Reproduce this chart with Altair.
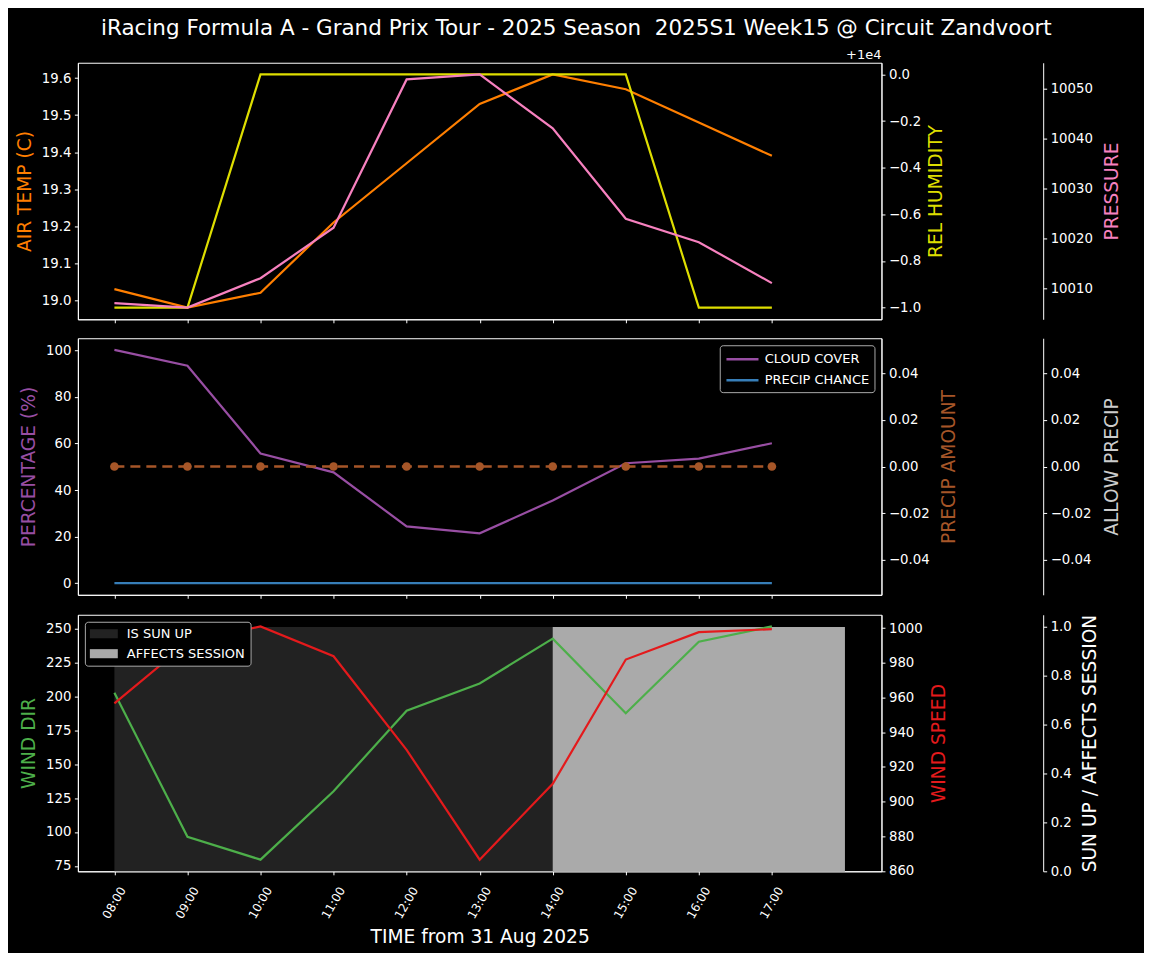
import altair as alt
import pandas as pd

# ---------------- text ----------------
TITLE = "iRacing Formula A - Grand Prix Tour - 2025 Season\u00a0 2025S1 Week15 @ Circuit Zandvoort"
X_TITLE = "TIME from 31 Aug 2025"
HUM_OFFSET_TEXT = "+1e4"

# ---------------- data ----------------
times = ["08:00", "09:00", "10:00", "11:00", "12:00", "13:00", "14:00", "15:00", "16:00", "17:00"]

air_temp = [19.03, 18.98, 19.02, 19.21, 19.37, 19.53, 19.61, 19.57, 19.48, 19.39]
rel_humidity = [9999, 9999, 10000, 10000, 10000, 10000, 10000, 10000, 9999, 9999]
pressure = [10007.0, 10006.1, 10012.0, 10022.1, 10051.8, 10052.8, 10042.0, 10023.9, 10019.2, 10011.0]

cloud_cover = [100.2, 93.4, 55.7, 47.6, 24.4, 21.4, 35.5, 51.5, 53.5, 60.1]
precip_chance = [0, 0, 0, 0, 0, 0, 0, 0, 0, 0]
precip_amount = [0.0, 0.0, 0.0, 0.0, 0.0, 0.0, 0.0, 0.0, 0.0, 0.0]
allow_precip = [0, 0, 0, 0, 0, 0, 0, 0, 0, 0]

wind_dir = [202.7, 96.5, 79.6, 130.0, 189.5, 209.6, 242.7, 187.6, 240.4, 251.7]
wind_speed = [956.6, 991.6, 1001.0, 983.8, 929.8, 866.5, 910.2, 981.9, 997.7, 999.4]
is_sun_up = [1, 1, 1, 1, 1, 1, 1, 1, 1, 1]
affects_session = [0, 0, 0, 0, 0, 0, 1, 1, 1, 1]

# tick values
air_ticks = [19.0, 19.1, 19.2, 19.3, 19.4, 19.5, 19.6]
hum_ticks = [9999.0, 9999.2, 9999.4, 9999.6, 9999.8, 10000.0]
pres_ticks = [10010, 10020, 10030, 10040, 10050]
pct_ticks = [0, 20, 40, 60, 80, 100]
precip_ticks = [-0.04, -0.02, 0.0, 0.02, 0.04]
wdir_ticks = [75, 100, 125, 150, 175, 200, 225, 250]
wspd_ticks = [860, 880, 900, 920, 940, 960, 980, 1000]
sun_ticks = [0.0, 0.2, 0.4, 0.6, 0.8, 1.0]

# ---------------- style ----------------
FONT = "DejaVu Sans"
W, H = 805, 257
LW = 2.2
ORANGE = "#ff7f00"
YELLOW = "#dede00"
PINK = "#f781bf"
PURPLE = "#984ea3"
BLUE = "#377eb8"
BROWN = "#a65628"
GREEN = "#4daf4a"
RED = "#e41a1c"
LIGHT = "#cccccc"
SUN_COL = "#222222"
AFF_COL = "#aaaaaa"

hours = [int(t.split(":")[0]) for t in times]


def padded(vals, frac=0.05):
    lo, hi = min(vals), max(vals)
    d = (hi - lo) * frac
    return [lo - d, hi + d]


xscale = alt.Scale(domain=[hours[0] - 0.5, hours[-1] + 1.5], nice=False, zero=False)


def x_axis(bottom=False):
    if bottom:
        return alt.Axis(values=hours,
                        labelExpr="(datum.value < 10 ? '0' : '') + datum.value + ':00'",
                        labelAngle=300, labelAlign="right", labelBaseline="middle",
                        labelOffset=8, labelPadding=12.5, labelFontSize=12,
                        title=X_TITLE, titleColor="white", titlePadding=7)
    return alt.Axis(values=hours, labels=False, title=None)


def x_enc(bottom=False):
    return alt.X("hour:Q", scale=xscale, axis=x_axis(bottom))


def y_axis(title, color, orient, values, fmt=None, expr=None, offset=None, tpad=6):
    kw = dict(orient=orient, values=values, title=title, titleColor=color, titlePadding=tpad)
    if fmt is not None:
        kw["format"] = fmt
    if expr is not None:
        kw["labelExpr"] = expr
    if offset is not None:
        kw["offset"] = offset
    if orient == "right":
        kw["titleAngle"] = 270
        kw["titleBaseline"] = "top"
    return alt.Axis(**kw)


def sc(domain):
    return alt.Scale(domain=domain, nice=False, zero=False)


def legend(orient, symbol, size, label_offset, row_pad, stroke_w):
    return alt.Legend(orient=orient, offset=7, title=None,
                      fillColor="#000000", strokeColor="#aaaaaa",
                      cornerRadius=3, padding=5,
                      labelColor="white", labelFontSize=13, labelFont=FONT,
                      symbolType=symbol, symbolSize=size, symbolStrokeWidth=stroke_w,
                      labelOffset=label_offset, rowPadding=row_pad)


# ---------------- top panel ----------------
top_df = pd.DataFrame({"hour": hours, "air_temp": air_temp,
                       "rel_humidity": rel_humidity, "pressure": pressure})
tb = alt.Chart(top_df)
air = tb.mark_line(color=ORANGE, strokeWidth=LW).encode(
    x=x_enc(),
    y=alt.Y("air_temp:Q", scale=sc(padded(air_temp)),
            axis=y_axis("AIR TEMP (C)", ORANGE, "left", air_ticks, fmt=".1f", tpad=7)))
hum = tb.mark_line(color=YELLOW, strokeWidth=LW).encode(
    x=x_enc(),
    y=alt.Y("rel_humidity:Q", scale=sc(padded(rel_humidity)),
            axis=y_axis("REL HUMIDITY", YELLOW, "right", hum_ticks,
                        expr="format(datum.value - 10000, '.1f')")))
pres = tb.mark_line(color=PINK, strokeWidth=LW).encode(
    x=x_enc(),
    y=alt.Y("pressure:Q", scale=sc(padded(pressure)),
            axis=y_axis("PRESSURE", PINK, "right", pres_ticks, fmt="d", offset=162, tpad=10)))
offset_txt = alt.Chart(pd.DataFrame({"t": [HUM_OFFSET_TEXT]})).mark_text(
    align="right", baseline="alphabetic", color="white", fontSize=13, font=FONT
).encode(x=alt.value(W), y=alt.value(-4), text="t:N")

top = alt.layer(air, hum, pres, offset_txt).resolve_scale(y="independent").properties(width=W, height=H)

# ---------------- middle panel ----------------
series_names = ["CLOUD COVER", "PRECIP CHANCE"]
pct_df = pd.DataFrame({
    "hour": hours + hours,
    "series": [series_names[0]] * len(hours) + [series_names[1]] * len(hours),
    "pct": cloud_cover + precip_chance,
})
pct = alt.Chart(pct_df).mark_line(strokeWidth=LW).encode(
    x=x_enc(),
    y=alt.Y("pct:Q", scale=sc(padded(cloud_cover + precip_chance)),
            axis=y_axis("PERCENTAGE (%)", PURPLE, "left", pct_ticks, fmt="d", tpad=7)),
    color=alt.Color("series:N", sort=series_names,
                    scale=alt.Scale(domain=series_names, range=[PURPLE, BLUE]),
                    legend=legend("top-right", "M-1,0L3.4,0", 213, 22, 5, 2.5)))

pr_df = pd.DataFrame({"hour": hours, "precip_amount": precip_amount, "allow_precip": allow_precip})
allow = alt.Chart(pr_df).mark_line(color=LIGHT, strokeWidth=2, strokeOpacity=0).encode(
    x=x_enc(),
    y=alt.Y("allow_precip:Q", scale=sc([-0.055, 0.055]),
            axis=y_axis("ALLOW PRECIP", LIGHT, "right", precip_ticks, fmt=".2f", offset=162, tpad=12)))
pamt = alt.Chart(pr_df).mark_line(
    color=BROWN, strokeWidth=2.5, strokeDash=[10, 6],
    point=alt.OverlayMarkDef(color=BROWN, size=75, filled=True, opacity=1)
).encode(
    x=x_enc(),
    y=alt.Y("precip_amount:Q", scale=sc([-0.055, 0.055]),
            axis=y_axis("PRECIP AMOUNT", BROWN, "right", precip_ticks, fmt=".2f", tpad=10)))

mid = alt.layer(pct, allow, pamt).resolve_scale(y="independent").properties(width=W, height=H)

# ---------------- bottom panel ----------------
band_names = ["IS SUN UP", "AFFECTS SESSION"]
sun_df = pd.DataFrame({
    "hour": hours + hours,
    "series": [band_names[0]] * len(hours) + [band_names[1]] * len(hours),
    "val": is_sun_up + affects_session,
})
band_scale = alt.Scale(domain=band_names, range=[SUN_COL, AFF_COL])
bands = alt.Chart(sun_df).transform_filter("datum.val > 0").transform_calculate(
    hour_end="datum.hour + 1"
).transform_aggregate(
    start="min(hour)", end="max(hour_end)", top="max(val)", groupby=["series"]
).transform_calculate(
    base="0", order="indexof(['IS SUN UP', 'AFFECTS SESSION'], datum.series)"
).mark_rect().encode(
    x=alt.X("start:Q", scale=xscale, axis=x_axis(True)),
    x2=alt.X2("end"),
    y=alt.Y("top:Q", scale=sc([0, 1.05]),
            axis=y_axis("SUN UP / AFFECTS SESSION", "white", "right", sun_ticks,
                        fmt=".1f", offset=162, tpad=9)),
    y2=alt.Y2("base"),
    order=alt.Order("order:Q"),
    color=alt.Color("series:N", sort=band_names, scale=band_scale,
                    legend=legend("top-left", "M-1,-0.65L3,-0.65L3,0.65L-1,0.65Z", 196, 23, 6, 0)),
)

wd_df = pd.DataFrame({"hour": hours, "wind_dir": wind_dir, "wind_speed": wind_speed})
wdir = alt.Chart(wd_df).mark_line(color=GREEN, strokeWidth=LW).encode(
    x=x_enc(bottom=True),
    y=alt.Y("wind_dir:Q", scale=sc(padded(wind_dir)),
            axis=y_axis("WIND DIR", GREEN, "left", wdir_ticks, fmt="d", tpad=7)))
wspd = alt.Chart(wd_df).mark_line(color=RED, strokeWidth=LW).encode(
    x=x_enc(bottom=True),
    y=alt.Y("wind_speed:Q", scale=sc(padded(wind_speed)),
            axis=y_axis("WIND SPEED", RED, "right", wspd_ticks, fmt="d", tpad=7)))

bot = alt.layer(bands, wdir, wspd).resolve_scale(y="independent").properties(width=W, height=H)

# ---------------- assemble ----------------
chart = alt.vconcat(top, mid, bot, spacing=13).resolve_scale(
    color="independent"
).properties(
    title=alt.TitleParams(TITLE, fontSize=21.5, color="white", font=FONT, fontWeight="normal",
                          anchor="middle", baseline="bottom", offset=-13, dx=8),
    padding={"left": 6, "top": 9, "right": 22, "bottom": 5},
).configure(background="black", font=FONT).configure_view(
    stroke="white", strokeWidth=1
).configure_axis(
    domainColor="white", tickColor="white", labelColor="white",
    labelFont=FONT, labelFontSize=13.3, titleFont=FONT, titleFontSize=18.67,
    titleFontWeight="normal", tickSize=3.5, labelPadding=3.5, grid=False,
    labelFlush=False, labelOverlap=False, domainWidth=1, tickWidth=1,
)

chart.save("out.html", embed_options={"renderer": "svg", "actions": False})
